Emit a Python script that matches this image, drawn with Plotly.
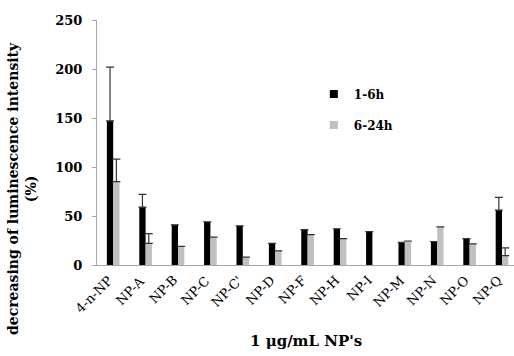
import plotly.graph_objects as go

categories = ["4-n-NP", "NP-A", "NP-B", "NP-C", "NP-C'", "NP-D", "NP-F", "NP-H",
              "NP-I", "NP-M", "NP-N", "NP-O", "NP-Q"]
vals_1_6 = [147, 59, 41, 44, 40, 22, 36, 37, 34, 23, 24, 27, 56]
err_1_6 = [55, 13, None, None, None, None, None, None, None, None, None, None, 13]
vals_6_24 = [85, 22, 19, 28.5, 8, 14.5, 31, 27, None, 24.5, 39, 21.5, 9.5]
err_6_24 = [23, 10, None, None, None, None, None, None, None, None, None, None, 8]
y_ticks = [0, 50, 100, 150, 200, 250]
series_names = ["1-6h", "6-24h"]
series_colors = ["#000000", "#c0c0c0"]

FONT = "DejaVu Serif"

fig = go.Figure()
for name, vals, errs, col in zip(series_names, [vals_1_6, vals_6_24], [err_1_6, err_6_24], series_colors):
    fig.add_trace(go.Bar(
        name=name, x=categories, y=vals, marker_color=col,
        marker_line_width=0, showlegend=False,
        error_y=dict(type="data", array=errs, symmetric=False,
                     arrayminus=[0]*len(errs), color="#333333", thickness=1.2, width=4),
    ))
# legend entries (small squares like the original)
for i, (name, col) in enumerate(zip(series_names, series_colors)):
    fig.add_trace(go.Scatter(
        x=[None], y=[None], mode="markers", name=name, legendgroup=f"g{i}",
        marker=dict(symbol="square", size=8, color=col),
    ))

# rotated category labels
annotations = [dict(
    text=c, x=c, xref="x", y=0, yref="paper", textangle=-45,
    xanchor="right", yanchor="top", xshift=5, yshift=-5, showarrow=False,
    font=dict(family=FONT, size=13, color="black"),
) for c in categories]
annotations.append(dict(
    text="decreasing of luminescence intensity<br>(%)",
    textangle=-90, xref="paper", yref="paper", x=-0.18, y=0.314,
    xanchor="center", yanchor="middle", showarrow=False,
    font=dict(family=FONT, size=14, weight="bold", color="black"),
))
annotations.append(dict(
    text="1 \u03bcg/mL NP's", xref="paper", yref="paper", x=0.5, y=-0.31,
    xanchor="center", yanchor="middle", showarrow=False,
    font=dict(family=FONT, size=15, weight="bold", color="black"),
))

fig.update_layout(
    width=514, height=356,
    margin=dict(l=97, r=0, t=20, b=91),
    paper_bgcolor="white", plot_bgcolor="white",
    barmode="group", bargap=0.61, bargroupgap=0,
    font=dict(family=FONT, size=12, color="black"),
    showlegend=True,
    legend=dict(x=0.52, y=0.757, xanchor="left", yanchor="top",
                font=dict(family=FONT, size=12, weight="bold"),
                traceorder="grouped", tracegroupgap=12,
                itemwidth=30, bgcolor="rgba(0,0,0,0)"),
    xaxis=dict(
        range=[-0.5, 12.37], showline=True, linecolor="#a6a6a6", linewidth=1,
        showticklabels=False, ticks="", showgrid=False, automargin=False,
    ),
    yaxis=dict(
        range=[0, 250], tickvals=y_ticks, showline=True, linecolor="#a6a6a6", linewidth=1,
        ticks="outside", ticklen=4, tickcolor="#a6a6a6", showgrid=False, zeroline=False,
        tickfont=dict(family=FONT, size=13, weight="bold"),
        ticklabelstandoff=7,
    ),
    annotations=annotations,
)

fig.write_html("out.html")
